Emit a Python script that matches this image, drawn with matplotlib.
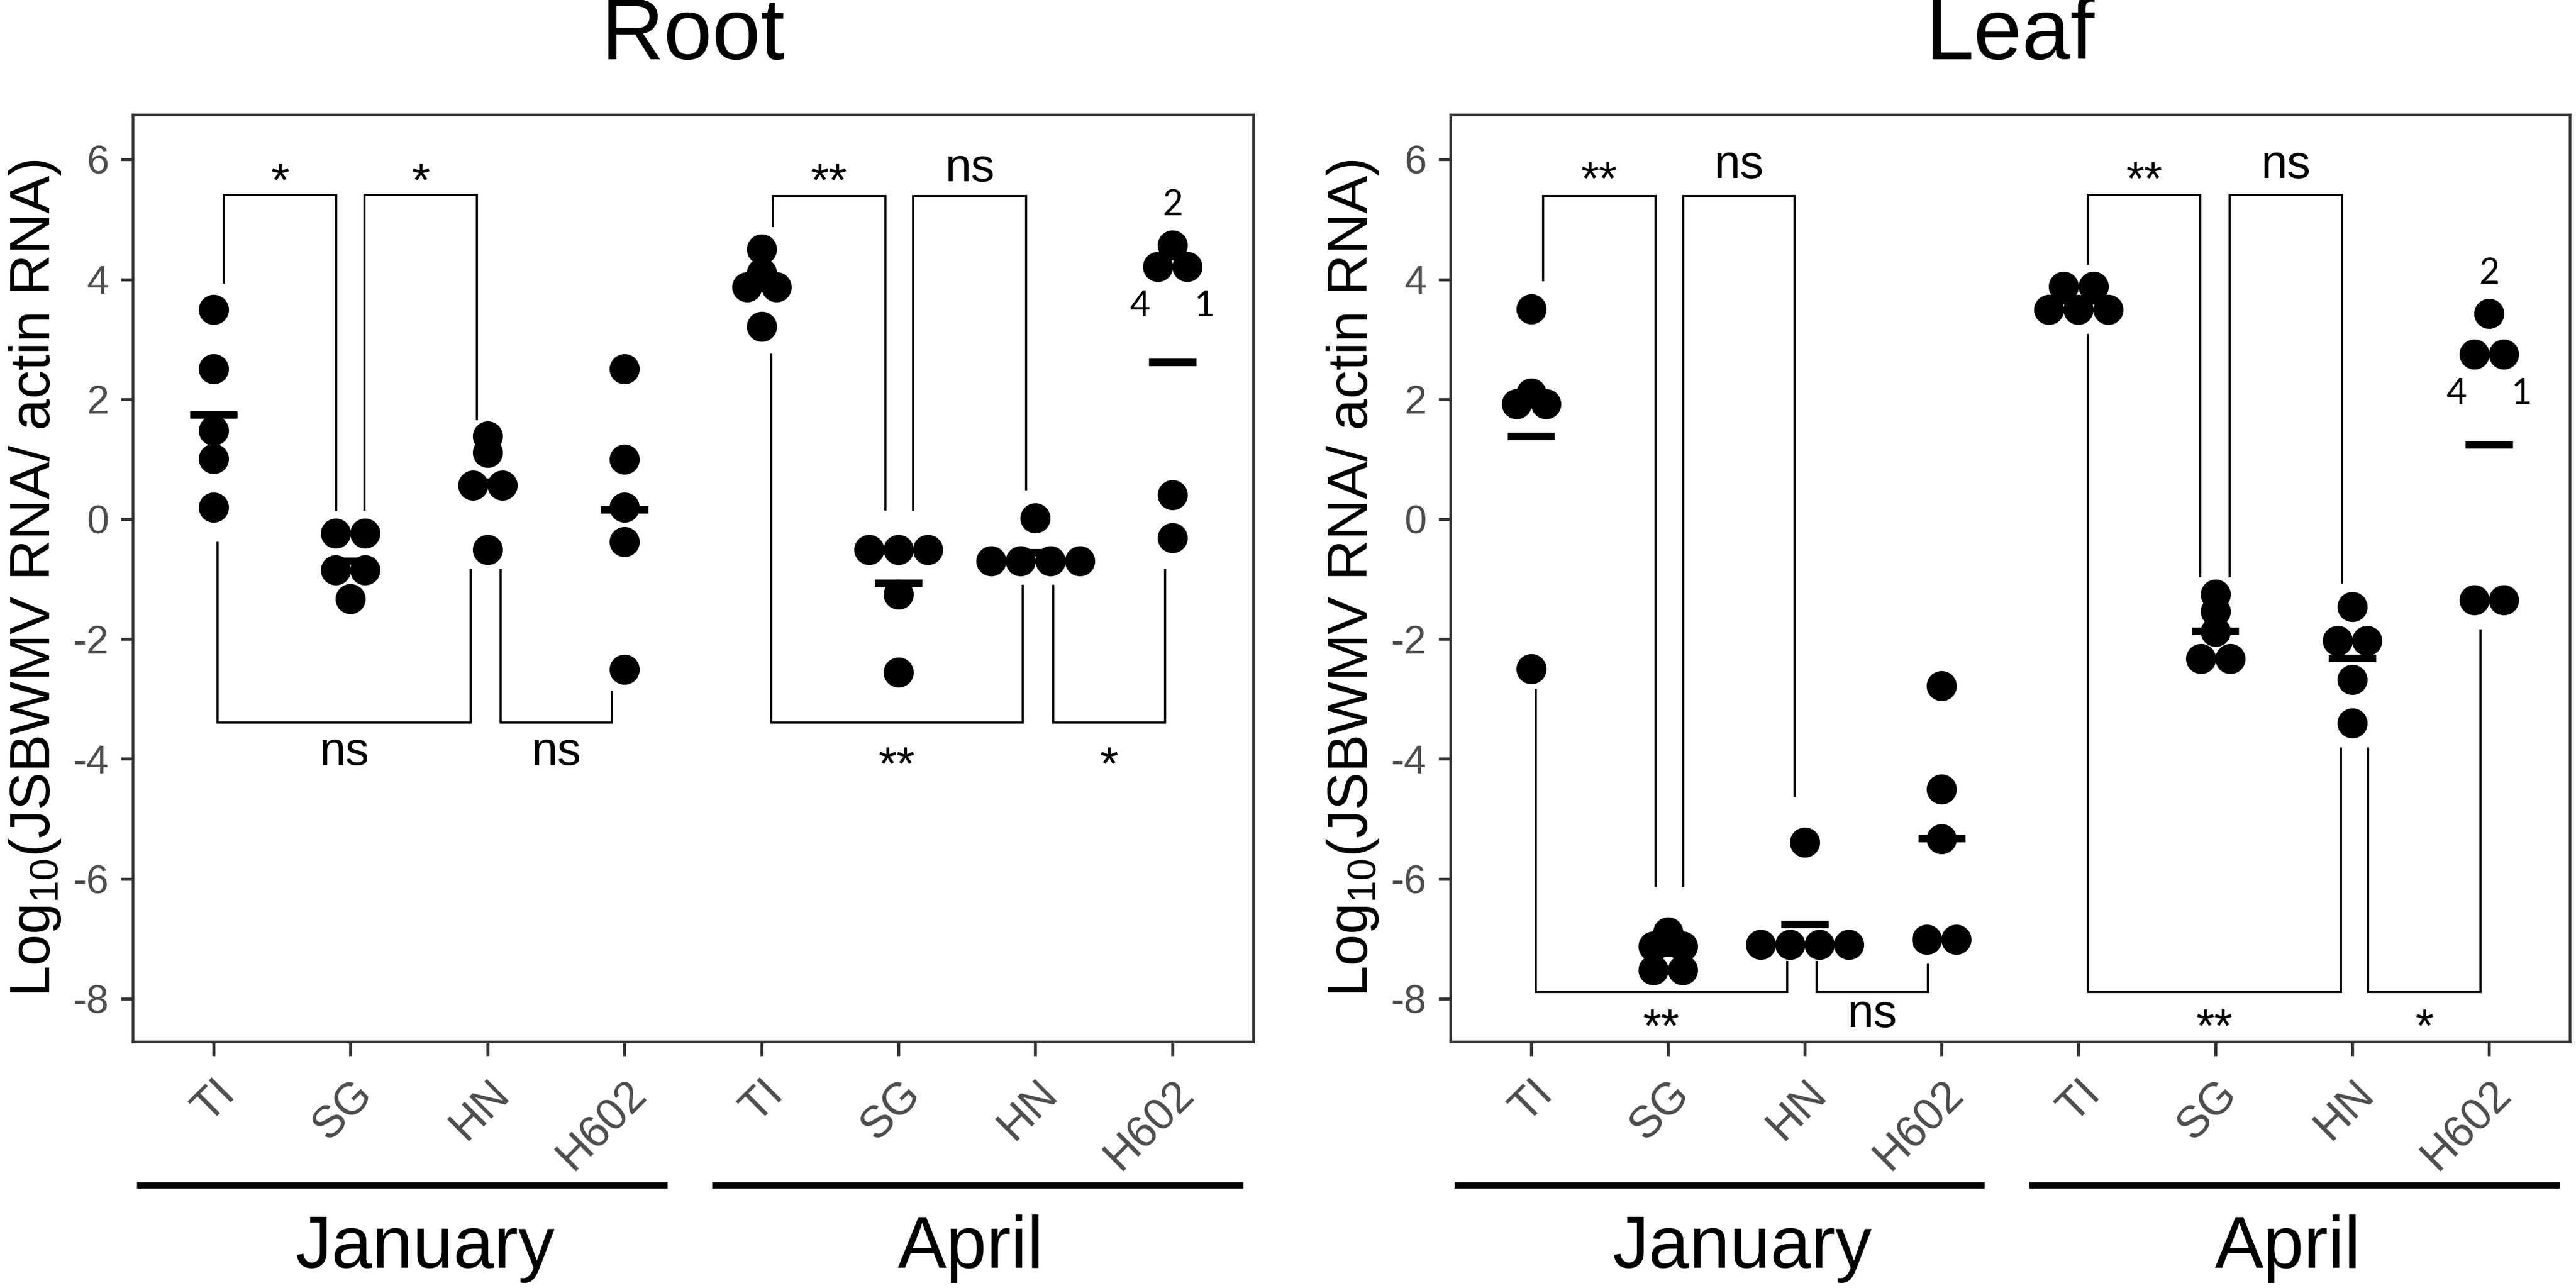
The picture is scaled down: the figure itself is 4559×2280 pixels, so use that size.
import numpy as np
import matplotlib
matplotlib.use("Agg")
import matplotlib.pyplot as plt

plt.rcParams['font.family'] = ['Liberation Sans', 'DejaVu Sans']
plt.rcParams['mathtext.fontset'] = 'custom'
plt.rcParams['mathtext.rm'] = 'Liberation Sans'
plt.rcParams['mathtext.default'] = 'regular'
plt.rcParams['axes.unicode_minus'] = False

# ---- DATA (log10 JSBWMV / actin) ----
cultivars = ["TI", "SG", "HN", "H602"]
months = ["January", "April"]

root_jan = [[3.50, 2.51, 1.48, 1.01, 0.20],
            [-0.24, -0.24, -0.85, -0.85, -1.33],
            [1.39, 1.11, 0.57, 0.57, -0.51],
            [2.51, 1.00, 0.20, -0.38, -2.51]]
root_apr = [[4.51, 4.11, 3.87, 3.87, 3.21],
            [-0.51, -0.51, -0.51, -1.25, -2.55],
            [0.02, -0.70, -0.70, -0.70, -0.70],
            [4.57, 4.21, 4.21, 0.41, -0.31]]
leaf_jan = [[3.51, 2.10, 1.92, 1.92, -2.50],
            [-6.89, -7.13, -7.13, -7.52, -7.52],
            [-5.39, -7.10, -7.10, -7.10, -7.10],
            [-2.78, -4.51, -5.34, -7.01, -7.01]]
leaf_apr = [[3.88, 3.88, 3.50, 3.50, 3.50],
            [-1.25, -1.54, -1.88, -2.33, -2.33],
            [-1.46, -2.03, -2.03, -2.68, -3.40],
            [3.43, 2.75, 2.75, -1.35, -1.35]]

# sample numbers written next to the H602 April dots (index into that list)
sample_ids = ["2", "4", "1"]

# significance brackets: x1, x2, bar y, left tip y, right tip y, label, label y
root_sig = [(1.074, 1.896, 5.41, 3.95, 0.16, "*", 5.84),
            (2.103, 2.921, 5.41, 0.16, 1.67, "*", 5.84),
            (5.085, 5.903, 5.39, 4.89, 0.16, "**", 5.84),
            (6.109, 6.931, 5.39, 0.16, 0.50, "ns", 5.84),
            (1.031, 2.879, -3.39, -0.40, -0.85, "ns", -3.90),
            (3.097, 3.908, -3.39, -0.85, -2.88, "ns", -3.90),
            (5.070, 6.907, -3.39, 2.74, -1.11, "**", -3.90),
            (7.130, 7.948, -3.39, -1.11, -0.85, "*", -3.90)]
leaf_sig = [(1.087, 1.908, 5.39, 3.99, -6.12, "**", 5.87),
            (2.114, 2.927, 5.39, -6.12, -4.62, "ns", 5.90),
            (5.069, 5.891, 5.41, 4.26, -0.95, "**", 5.87),
            (6.103, 6.925, 5.41, -0.95, -1.06, "ns", 5.90),
            (1.033, 2.872, -7.89, -2.86, -7.39, "**", -8.27),
            (3.087, 3.901, -7.89, -7.39, -7.44, "ns", -8.27),
            (5.069, 6.918, -7.89, 3.07, -3.83, "**", -8.27),
            (7.116, 7.938, -7.89, -3.83, -1.86, "*", -8.27)]

# ---- STYLE ----
DOT_W = 0.215      # dot diameter in x units
MS = 12.8
GREY = '#4D4D4D'
FRAME = '#333333'
SIG_FS = 20


def dot_offsets(vals):
    # identical values sit side by side, centred on the category
    vals = np.asarray(vals)
    off = np.zeros(len(vals))
    for v in np.unique(vals):
        idx = np.where(vals == v)[0]
        off[idx] = (np.arange(len(idx)) - (len(idx) - 1) / 2) * DOT_W
    return off


def draw_panel(ax, jan, apr, sig, title):
    groups = jan + apr
    pos = np.arange(1, len(groups) + 1)
    for p, vals in zip(pos, groups):
        xs = p + dot_offsets(vals)
        ax.plot(xs, vals, 'o', ms=MS, color='black', mec='none', zorder=3)
        m = np.mean(vals)
        ax.plot([p - 0.172, p + 0.172], [m, m], color='black', lw=3.2,
                solid_capstyle='butt', zorder=3)

    # sample numbers on H602 April
    h = apr[3]
    hx = pos[-1] + dot_offsets(h)
    ax.text(hx[0], h[0] + 0.67, sample_ids[0], ha='center', va='center',
            fontsize=15, family='Lato')
    ax.text(hx[1] - 0.13, h[1] - 0.66, sample_ids[1], ha='center', va='center',
            fontsize=15, family='Lato')
    ax.text(hx[2] + 0.13, h[2] - 0.66, sample_ids[2], ha='center', va='center',
            fontsize=15, family='Lato')

    for x1, x2, yb, t1, t2, lab, ly in sig:
        ax.plot([x1, x1, x2, x2], [t1, yb, yb, t2], color='black', lw=0.9,
                solid_joinstyle='miter', zorder=2)
        shift = -0.26 * SIG_FS if lab == "ns" else -0.575 * SIG_FS
        ax.annotate(lab, xy=((x1 + x2) / 2, ly), xytext=(0, shift),
                    textcoords='offset points', ha='center', va='baseline',
                    fontsize=SIG_FS)

    ax.set_xlim(0.41, 8.59)
    ax.set_ylim(-8.72, 6.75)
    ax.set_yticks(np.arange(-8, 7, 2))
    ax.set_xticks(pos)
    ax.set_xticklabels(cultivars * 2, rotation=45, ha='right', va='top',
                       rotation_mode='anchor', color=GREY, fontsize=19)
    ax.tick_params(axis='y', labelsize=17, labelcolor=GREY, length=5,
                   width=1.3, color=FRAME, pad=5)
    ax.tick_params(axis='x', length=6, width=1.3, color=FRAME, pad=7)
    for s in ax.spines.values():
        s.set_color(FRAME)
        s.set_linewidth(1.1)

    ax.text(0.5, 1.084, title, transform=ax.transAxes, ha='center',
            va='center', fontsize=37)
    ax.text(-0.087, 0.5, r'Log$_{10}$(JSBWMV RNA/ actin RNA)',
            transform=ax.transAxes, rotation=90, ha='center', va='center',
            fontsize=24)

    # month group bars below the tick labels
    for (a, b), name, cx in zip([(0.0035, 0.477), (0.517, 0.991)], months,
                                [0.261, 0.748]):
        ax.plot([a, b], [-0.155, -0.155], transform=ax.transAxes,
                color='black', lw=2.6, clip_on=False, solid_capstyle='butt')
        ax.text(cx, -0.223, name, transform=ax.transAxes, ha='center',
                va='center', fontsize=31)


fig = plt.figure(figsize=(4559 / 300, 2280 / 300), dpi=300)
ax1 = fig.add_axes([0.0515, 0.1912, 0.435, 0.7198])
ax2 = fig.add_axes([0.563, 0.1912, 0.4346, 0.7198])

draw_panel(ax1, root_jan, root_apr, root_sig, "Root")
draw_panel(ax2, leaf_jan, leaf_apr, leaf_sig, "Leaf")

fig.savefig("out.png", dpi=300, facecolor='white')
